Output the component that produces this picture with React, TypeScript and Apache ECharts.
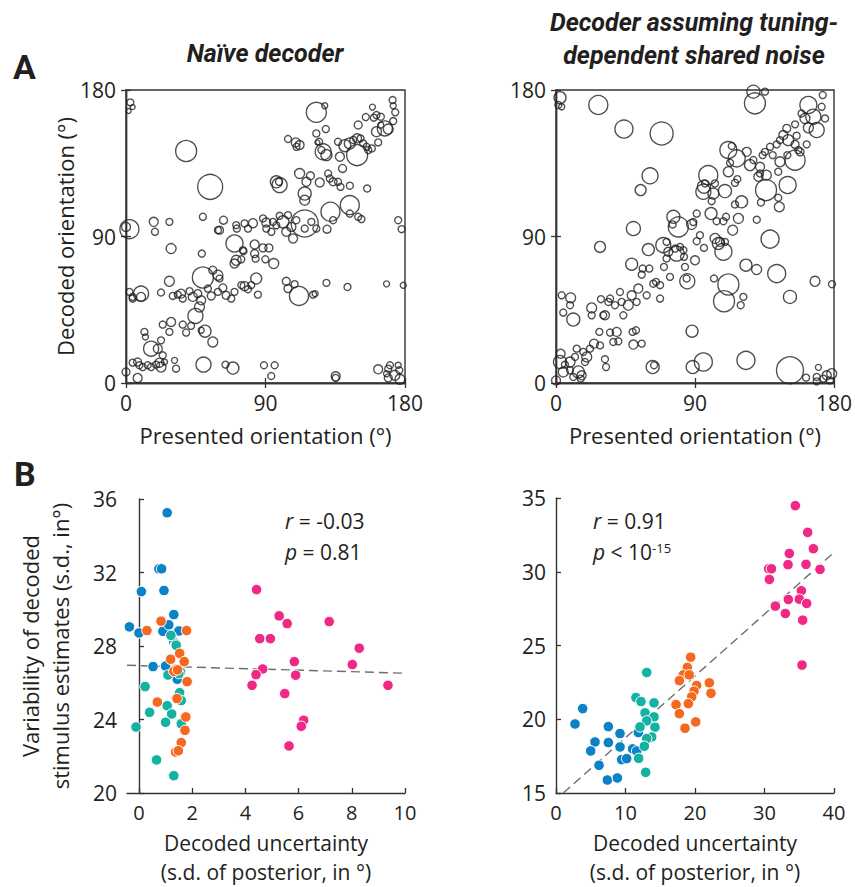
import React, { useEffect, useRef } from "react";
import * as echarts from "echarts";

// ---------- Data ----------
// Panel A: [presented orientation, decoded orientation, decoded uncertainty (marker diameter)]
const naivePoints: number[][] = [
  [2.8,172.4,7],[4.3,169.5,5],[1.7,167.1,5],
  [122.8,166.3,20],[128.2,170.3,6],
  [172,173.8,7],[172.4,170.3,6],[173.7,166.3,7],
  [159,169.5,6],[161.6,164.6,7],[154.7,163.4,7],[159.9,163,7],[164.4,163.6,7],[172.4,160.9,7],[164.4,158.5,6],[167,156.4,15],[169.2,156,10],[161.6,154.4,10],[149.8,158.5,8],[162.7,147.8,7],
  [128.9,156,7],[122.8,153.3,7],[124.6,148.2,7],[123.5,147.8,5],
  [104.5,149.9,7],[109.5,147.8,9],[112,146.2,9],[110,145.1,7],
  [127.2,142,16],[129.3,140,11],[126.1,143.1,7],
  [136.8,148.2,7],[141.2,145.8,12],[144.4,147.2,11],[146.6,149.3,7],[149.1,150.3,9],[151.3,150.3,7],[153,147.2,7],[155.2,145.1,7],[149.1,140,21],[156.3,143.1,7],[158.6,144.1,7],
  [138,139,9],[139.7,131.8,8],
  [38.8,142.5,21],[54.3,120.5,25],
  [97,123.6,12],[99.1,121.6,15],[98.7,123.6,7],
  [112,128.7,10],[119,127.3,8],[116.4,123.6,9],[125,123.2,9],[115.3,116.4,13],[115.3,112.3,10],[130.4,128.7,7],[131.5,125.6,7],[133.6,123.6,8],[136.8,123.6,7],[138.4,120.5,7],[144.4,121.2,7],[155.6,119.5,7],
  [131.9,105.2,19],[144.4,109.3,19],[144.4,104.1,7],[149.8,102.1,7],[151.9,100.7,7],
  [175.6,100,7],[177.8,94.5,7],
  [2.2,94.5,19],[0,95.9,9],
  [17.9,99,9],[28,99,7],[18.7,92.9,7],[49.6,102.1,7],
  [60.3,93.9,8],[59.3,93.9,7],[62.9,100,8],[71.1,97,7],[76.5,98,7],[81.9,98.2,9],[78.7,94.9,7],[71.5,94.9,7],
  [88.4,101.1,7],[90.5,98.6,9],[94.8,99,7],[90.5,94.9,7],[93.8,92.9,7],[97,96.9,7],[99.1,102.7,7],[101.3,99,12],[104.5,103.1,7],[103.4,92.9,9],[107.8,88.8,9],[106.7,95.9,9],[109.9,100,7],[115.3,98,27],[119.6,99,7],[115.3,94.9,7],[122.8,94.9,7],[129.7,94.5,8],[133.6,100,7],
  [70,85.7,17],[83,85.1,9],[88.4,83,8],[92.2,83,8],[75.4,81.6,7],[29.1,82.6,10],[48.9,79.5,7],
  [71.1,75.4,10],[74.4,76,7],[70,73.4,9],[83,79.5,8],[83.6,76.4,7],[89.9,76,7],[95.3,73.4,10],[75.8,81,7],
  [28,62.5,10],[49.6,64.8,21],[56,69.3,8],[59.3,66.2,10],[60.3,64.2,7],
  [2.2,56,7],[4.3,52.9,7],[9.7,54.9,15],[9.7,52.9,9],[22.6,55.6,7],[4.3,51.9,7],
  [30.2,53.5,7],[33.4,54.3,7],[35.5,54.9,9],[36.6,51.9,7],[41,56.4,7],[43.1,52.9,9],[46.3,54.9,8],[48.5,50.8,9],[52.8,58,7],[55,53.5,8],[59.3,56,7],[62.5,58.4,8],[64.6,53.9,8],[67.9,51.9,7],[70,56,7],[74.4,60.1,7],[76.5,59.5,9],[78.7,57.6,7],[80.8,60.1,7],[84,64.2,11],[85.1,54.3,7],
  [103.4,62.5,8],[104.5,58,8],[108.8,60.7,7],[111.6,53.5,19],[120.7,54.3,7],[122,54.9,6],
  [129.3,61.5,7],[142.9,59,7],[168.1,60.9,6],[178.9,60,6],
  [47.4,46.7,10],[44.8,41.2,15],
  [23.7,35.9,7],[29.1,37.5,9],[28,31.4,7],[11.9,31.4,7],[12.5,28.3,6],[36.6,35.9,7],[42,35.1,7],[38.8,31,7],[51,31.8,12],[56,25.2,10],[48.5,32.4,6],
  [16.2,21.1,15],[22.6,26.2,7],[20.5,21.1,9],[23.7,17,7],[24.8,12.9,6],
  [4.3,12.5,7],[7.5,12.9,8],[8.6,10.9,7],[10.8,9.8,7],[14,10.9,7],[16.2,9.8,7],[19.4,11.3,7],[21.6,12.5,9],[22.6,9.8,10],[7.5,3.1,9],[0,6.8,8],[31.3,13.9,6],[32.3,8.8,7],
  [50,11.3,15],[64.2,11.3,7],[69,9.2,12],
  [89,10.9,7],[95.9,10.9,7],[93.7,4.3,7],
  [135.3,4.1,9],[135.3,3.1,7],
  [162.7,8.4,9],[169.2,8.8,7],[170.3,10.9,7],[175.6,10.9,6],[176.3,7.8,7],[169.2,3.1,8],[173.5,4.7,10],[176.7,2.3,10],[168.1,5.7,6]
];

const sharedPoints: number[][] = [
  [2.6,175.3,12],[1.5,170.8,7],[3.7,169.7,6],
  [27.4,170.8,19],[44,156,18],[68.4,153.3,23],
  [127.8,179,13],[135.3,179,7],[128.8,171.8,21],
  [172.7,176.9,7],[172,169.7,7],[163.4,170.8,17],[159,165.6,7],[161.2,162.5,10],[166.6,163.6,15],[174.2,162.5,7],[163.4,156.8,10],[168.8,155.4,15],[154.8,158.9,7],
  [149.4,156.4,8],[147.2,152.3,9],[150.4,149.2,11],[145,149.2,7],[155.8,151.9,7],[154.8,146.6,8],[162.3,146.6,7],[156.9,143.1,7],[158,142,8],[154.8,136.9,20],[149.8,140,7],[142.9,146.6,7],[138.6,145.1,7],[135.3,142,7],[133.8,140,7],[140.3,140,7],[145,135.9,10],[143.9,129.8,7],[150,121.6,17],
  [111.6,143.1,17],[113.8,145.6,7],[117,138,17],[112.7,135.3,7],[123.5,142,9],[125.6,133.9,11],[127.8,137,7],[132.1,132.8,9],[132.1,128.7,7],[131,126.7,9],[136.2,127.7,10],[136,118.5,21],[143.9,113.8,7],[144.6,108.2,10],[132.7,110.9,7],
  [111.6,129.8,10],[115.9,123,7],[117.4,125.2,7],[109.4,117.9,13],[98.6,127.7,19],[96.5,122.6,7],[95.4,117.5,15],[95.8,120.6,13],[101.9,116.4,11],[100.8,111.7,7],[102.9,122.6,7],
  [120.2,111.3,12],[115.9,109.7,7],[130,100.3,7],[118.1,101.1,10],[114.4,93.9,10],[108.4,99.4,7],[104,99.4,7],[110.1,102.1,7],[100.4,104.1,12],[91.1,104.1,7],[88.9,98.9,7],[87.8,97.4,10],[93.2,90.8,7],[91.1,87.1,7],[95.8,83,7],[103,88.8,10],[105.1,85.7,12],[108.4,80.6,17],[106.2,86.7,9],[109.4,86.7,7],
  [138.6,88.4,18],[123,72.4,12],[129.9,69.7,10],[142.9,67.2,18],[151.5,52.9,13],[167.7,62.5,10],[178.7,60.7,7],
  [102.3,64.2,7],[111.6,60.5,21],[108.8,50.2,21],[121.3,52.9,7],[119.6,47.8,7],
  [60.9,127.3,16],[54.8,118.5,11],[50.1,94.9,14],[28.5,83.6,11],
  [76,102.1,13],[79.2,95.9,20],[75.5,97.4,7],[71.6,86.7,7],[72.7,80.6,9],[69.5,84.7,15],[77.1,82.6,7],[80.3,83.6,7],[82.5,81.6,7],[82.9,77.5,7],[78.1,79.5,15],[71.6,76.5,7],[83.5,71.3,7],[90,75.4,9],[85,62.5,15],[84.6,64.2,7],
  [59.8,82,12],[49,73,12],[56.1,70.3,7],[60.4,70.3,7],[55.5,66.6,7],[69.9,71.3,7],[64.8,62.1,7],[67.4,60.1,7],[73.8,65.2,7],[67.4,51.9,7],[63,61,7],[53.3,58,9],[58.7,53.9,7],[49,53.9,9],[52.2,49.8,7],[46.8,47.8,10],[42.5,49.8,7],[43.6,41.6,7],[41.4,55.9,7],[35,51.9,7],[38.2,47.8,7],[30.6,41.6,7],[33.9,49.8,7],[29.1,51.5,7],
  [3.7,53.9,7],[9.5,52.3,10],[9.1,47.8,7],[4.7,43.3,7],[11.2,39,13],[23.1,46.1,10],[23.1,41.6,7],[31.7,41.6,9],
  [28.1,31.4,7],[35,31,7],[39.3,31.4,9],[40.4,25.6,7],[37.1,25.2,7],[49.6,31.4,7],[51.8,32.4,7],[50.1,23.6,9],[55.5,24.2,7],
  [24.6,24.2,9],[22,21.1,7],[28.5,23.1,7],[17.7,19.1,7],[19.9,16,10],[18.8,12.9,7],[13.4,21.1,7],[12.3,16,7],[9.1,12.9,10],[5.8,11.3,7],[3,18,9],[2.6,12.9,13],[4.7,6.8,10],[9.1,7.8,7],[14.5,6.8,12],[16.6,4.7,9],[11.2,3.7,7],[16,2.7,7],[0,1.6,9],
  [31.7,14.6,7],[32.4,9.8,7],
  [62.6,9.8,13],[63.5,10.9,7],
  [88.1,31.8,12],[88.5,9.8,13],[95.4,12.9,18],
  [123,13.9,18],[151.5,7.8,27],[161.9,3.3,7],
  [168.8,3.7,7],[169.9,9.6,6],[173.1,2.7,7],[175.3,4.7,9],[178.5,5.7,10],[177.4,1.6,7],[168.8,1,7]
];

// Panel B left (naive): [decoded uncertainty, variability]
const naiveBlue: number[][] = [
  [1.06,35.25],[0.75,32.2],[0.85,32.2],[0.09,30.96],[0.94,31.02],[1.31,29.71],[-0.36,29.04],[0.0,28.71],[0.9,28.8],[1.12,29.15],[1.5,28.82],[0.53,26.88],[1.0,26.91],[1.44,26.19],[1.31,28.22],[1.38,28.1]
];
const naiveOrange: number[][] = [
  [0.83,29.35],[0.3,28.84],[1.79,28.84],[1.53,27.6],[1.19,27.28],[1.7,27.15],[1.38,26.73],[1.31,26.62],[1.45,26.7],[1.81,26.06],[0.69,24.95],[1.43,25.14],[1.76,24.14],[1.73,23.41],[1.59,22.74],[1.38,22.23],[1.48,22.3]
];
const naiveTeal: number[][] = [
  [1.2,28.58],[1.4,28.04],[1.09,26.42],[1.56,26.59],[1.5,26.5],[0.23,25.79],[1.53,25.46],[1.59,25.03],[1.06,24.75],[0.4,24.39],[1.23,24.3],[1.0,23.85],[1.59,23.77],[-0.11,23.59],[0.66,21.8],[1.31,20.94]
];
const naivePink: number[][] = [
  [4.42,31.07],[5.27,29.64],[5.57,29.22],[7.15,29.33],[4.54,28.4],[4.94,28.4],[8.28,27.88],[5.84,27.15],[8.02,26.99],[4.65,26.75],[4.4,26.44],[5.89,26.41],[4.25,25.86],[5.48,25.41],[9.36,25.86],[6.19,23.96],[6.1,23.63],[5.64,22.56]
];
const naiveFit: number[][] = [[-0.45,26.95],[10,26.52]];

// Panel B right (tuning-dependent shared noise)
const sharedBlue: number[][] = [
  [3.84,20.72],[2.73,19.68],[5.61,18.46],[7.53,19.5],[7.53,18.42],[9.21,19.03],[4.99,17.85],[6.19,16.88],[7.39,15.88],[8.83,16.02],[9.45,17.26],[10.17,17.33],[9.21,18.12],[11.03,17.99],[11.85,19.1],[11.61,17.85]
];
const sharedTeal: number[][] = [
  [13.05,23.17],[11.5,21.47],[12.23,21.2],[14.1,21.11],[12.81,20.43],[14.1,20.16],[13.05,19.89],[14.24,19.46],[12.09,19.48],[13.77,18.8],[13.05,18.69],[12.71,18.17],[11.89,17.35],[12.9,16.4]
];
const sharedOrange: number[][] = [
  [19.38,24.21],[18.9,23.51],[18.32,23.01],[19.18,23.01],[17.75,22.62],[22.06,22.47],[20.24,22.29],[19.86,21.9],[22.3,21.76],[19.52,21.52],[17.27,20.99],[19.04,21.06],[17.75,20.38],[20.1,19.82],[18.56,19.39]
];
const sharedPink: number[][] = [
  [34.44,34.48],[36.21,32.67],[37.03,31.56],[33.57,31.24],[33.38,30.48],[35.97,30.5],[37.99,30.16],[30.6,30.2],[31.0,30.2],[30.7,29.48],[35.3,28.71],[33.43,28.12],[35.01,28.14],[36.07,27.85],[31.56,27.67],[33.0,27.17],[35.49,26.72],[35.4,23.67]
];
const sharedFit: number[][] = [[1.05,15],[40,31.31]];

const naiveUncTicks = [0, 2, 4, 6, 8, 10];

// ---------- Style ----------
const FONT = "'Open Sans', 'Noto Sans', sans-serif";
const TITLE_FONT = "Roboto, 'Open Sans', sans-serif";
const INK = "#231f20";
const AX = "#333333";
const BLUE = "#0b82c6";
const ORANGE = "#f4691f";
const TEAL = "#14b2a2";
const PINK = "#ee2a86";

const grids = [
  { left: 126, top: 90, width: 279, height: 293 },
  { left: 556, top: 90, width: 278, height: 293 },
  { left: 127, top: 499, width: 278, height: 294 },
  { left: 556, top: 498, width: 278, height: 295 },
];

function App() {
  const ref = useRef<HTMLDivElement>(null);
  useEffect(() => {
    if (!ref.current) return;
    const chart = echarts.init(ref.current, undefined, { renderer: "svg" });

    const labelStyle = { color: INK, fontSize: 21, fontFamily: FONT };
    const axisLine = { show: true, lineStyle: { color: AX, width: 1.4 } };
    const tickIn = { show: true, inside: true, length: 5, lineStyle: { color: AX, width: 1.3 } };

    const orientX = (gi: number) => ({
      type: "value", gridIndex: gi, min: 0, max: 180, interval: 90,
      axisLine, axisTick: tickIn, splitLine: { show: false },
      axisLabel: { ...labelStyle, margin: 9, showMinLabel: true, showMaxLabel: true },
      name: "Presented orientation (°)", nameLocation: "middle", nameGap: 41,
      nameTextStyle: { color: INK, fontSize: 22, fontFamily: FONT },
    });
    const orientXTop = (gi: number) => ({
      type: "value", gridIndex: gi, position: "top", min: 0, max: 180, interval: 90,
      axisLine, axisTick: tickIn, axisLabel: { show: false }, splitLine: { show: false },
    });
    const orientY = (gi: number, named: boolean) => ({
      type: "value", gridIndex: gi, min: 0, max: 180, interval: 90,
      axisLine, axisTick: tickIn, splitLine: { show: false },
      axisLabel: { ...labelStyle, margin: 10, showMinLabel: true, showMaxLabel: true },
      name: named ? "Decoded orientation (°)" : "", nameLocation: "middle", nameGap: 40,
      nameTextStyle: { color: INK, fontSize: 22, fontFamily: FONT },
    });
    const orientYRight = (gi: number) => ({
      type: "value", gridIndex: gi, position: "right", min: 0, max: 180, interval: 90,
      axisLine, axisTick: tickIn, axisLabel: { show: false }, splitLine: { show: false },
    });

    const uncName = "Decoded uncertainty\n(s.d. of posterior, in °)";
    const uncNameStyle = { color: INK, fontSize: 21, fontFamily: FONT, lineHeight: 29 };

    const circleSeries = (data: number[][], xi: number, yi: number) => ({
      type: "scatter", xAxisIndex: xi, yAxisIndex: yi, data, clip: false,
      symbol: "circle", symbolSize: (v: number[]) => v[2],
      itemStyle: { color: "rgba(0,0,0,0)", borderColor: INK, borderWidth: 1.35 },
      emphasis: { disabled: true }, silent: true,
    });
    const dotSeries = (data: number[][], xi: number, color: string) => ({
      type: "scatter", xAxisIndex: xi, yAxisIndex: xi, data, clip: false,
      symbol: "circle", symbolSize: 10.5, z: 3,
      itemStyle: { color, borderColor: "#ffffff", borderWidth: 1, opacity: 1 },
      emphasis: { disabled: true }, silent: true,
    });
    const fitSeries = (data: number[][], xi: number) => ({
      type: "line", xAxisIndex: xi, yAxisIndex: xi, data, symbol: "none", z: 2,
      lineStyle: { color: "#6e6e6e", width: 1.4, type: [9, 5] },
      silent: true,
    });

    const rich = { i: { fontStyle: "italic", fontSize: 21, fontFamily: FONT, fill: INK } };

    const option: any = {
      animation: false,
      textStyle: { fontFamily: FONT },
      grid: grids.map((g, i) => ({
        ...g, containLabel: false, outerBoundsMode: "none",
        show: i < 2, borderColor: AX, borderWidth: 1.4, backgroundColor: "rgba(0,0,0,0)",
      })),
      xAxis: [
        orientX(0), // 0
        orientX(1), // 1
        {
          type: "value", gridIndex: 2, min: -0.45, max: 10,
          axisLine, splitLine: { show: false },
          axisTick: { ...tickIn, customValues: naiveUncTicks },
          axisLabel: { ...labelStyle, fontSize: 20, margin: 9, customValues: naiveUncTicks },
          name: uncName, nameLocation: "middle", nameGap: 35, nameTextStyle: uncNameStyle,
        }, // 2
        {
          type: "value", gridIndex: 3, min: 0, max: 40, interval: 10,
          axisLine, axisTick: tickIn, splitLine: { show: false },
          axisLabel: { ...labelStyle, fontSize: 20, margin: 9, showMinLabel: true, showMaxLabel: true },
          name: uncName, nameLocation: "middle", nameGap: 35, nameTextStyle: uncNameStyle,
        }, // 3
        orientXTop(0), // 4
        orientXTop(1), // 5
      ],
      yAxis: [
        orientY(0, true),
        orientY(1, false),
        {
          type: "value", gridIndex: 2, min: 20, max: 36, interval: 4,
          axisLine, axisTick: tickIn, splitLine: { show: false },
          axisLabel: { ...labelStyle, margin: 10, showMinLabel: true, showMaxLabel: true },
          name: "Variability of decoded\nstimulus estimates (s.d., in°)", nameLocation: "middle", nameGap: 52,
          nameTextStyle: { color: INK, fontSize: 22, fontFamily: FONT, lineHeight: 30 },
        },
        {
          type: "value", gridIndex: 3, min: 15, max: 35, interval: 5,
          axisLine, axisTick: tickIn, splitLine: { show: false },
          axisLabel: { ...labelStyle, margin: 10, showMinLabel: true, showMaxLabel: true },
        },
        orientYRight(0), // 4
        orientYRight(1), // 5
      ],
      series: [
        circleSeries(naivePoints, 0, 0),
        circleSeries(sharedPoints, 1, 1),
        fitSeries(naiveFit, 2),
        dotSeries(naiveBlue, 2, BLUE),
        dotSeries(naiveTeal, 2, TEAL),
        dotSeries(naiveOrange, 2, ORANGE),
        dotSeries(naivePink, 2, PINK),
        fitSeries(sharedFit, 3),
        dotSeries(sharedBlue, 3, BLUE),
        dotSeries(sharedTeal, 3, TEAL),
        dotSeries(sharedOrange, 3, ORANGE),
        dotSeries(sharedPink, 3, PINK),
      ],
      graphic: [
        { type: "text", left: 13, top: 50, style: { text: "A", fontSize: 34, fontWeight: "bold", fontFamily: TITLE_FONT, fill: INK } },
        { type: "text", left: 14, top: 457, style: { text: "B", fontSize: 34, fontWeight: "bold", fontFamily: TITLE_FONT, fill: INK } },
        { type: "text", x: 265, y: 53, style: { text: "Naïve decoder", fontSize: 25, fontWeight: "bold", fontStyle: "italic", fontFamily: TITLE_FONT, fill: INK, align: "center", verticalAlign: "middle" } },
        { type: "text", x: 694, y: 39, style: { text: "Decoder assuming tuning-\ndependent shared noise", fontSize: 25, lineHeight: 33, fontWeight: "bold", fontStyle: "italic", fontFamily: TITLE_FONT, fill: INK, align: "center", verticalAlign: "middle" } },
        { type: "text", x: 285, y: 521, style: { text: "{i|r} = -0.03", fill: INK, fontSize: 21, fontFamily: FONT, verticalAlign: "middle", rich } },
        { type: "text", x: 285, y: 552, style: { text: "{i|p} = 0.81", fill: INK, fontSize: 21, fontFamily: FONT, verticalAlign: "middle", rich } },
        { type: "text", x: 593, y: 521, style: { text: "{i|r} = 0.91", fill: INK, fontSize: 21, fontFamily: FONT, verticalAlign: "middle", rich } },
        { type: "text", x: 593, y: 552, style: { text: "{i|p} < 10{s|-15}", fill: INK, fontSize: 21, fontFamily: FONT, verticalAlign: "middle", rich: { ...rich, s: { fontSize: 13, fontFamily: FONT, fill: INK, verticalAlign: "top", padding: [0, 0, 8, 0] } } } },
      ],
    };
    chart.setOption(option);
    return () => chart.dispose();
  }, []);
  return <div ref={ref} style={{ position: "absolute", left: 0, top: 0, width: 855, height: 887 }} />;
}

export default App;
